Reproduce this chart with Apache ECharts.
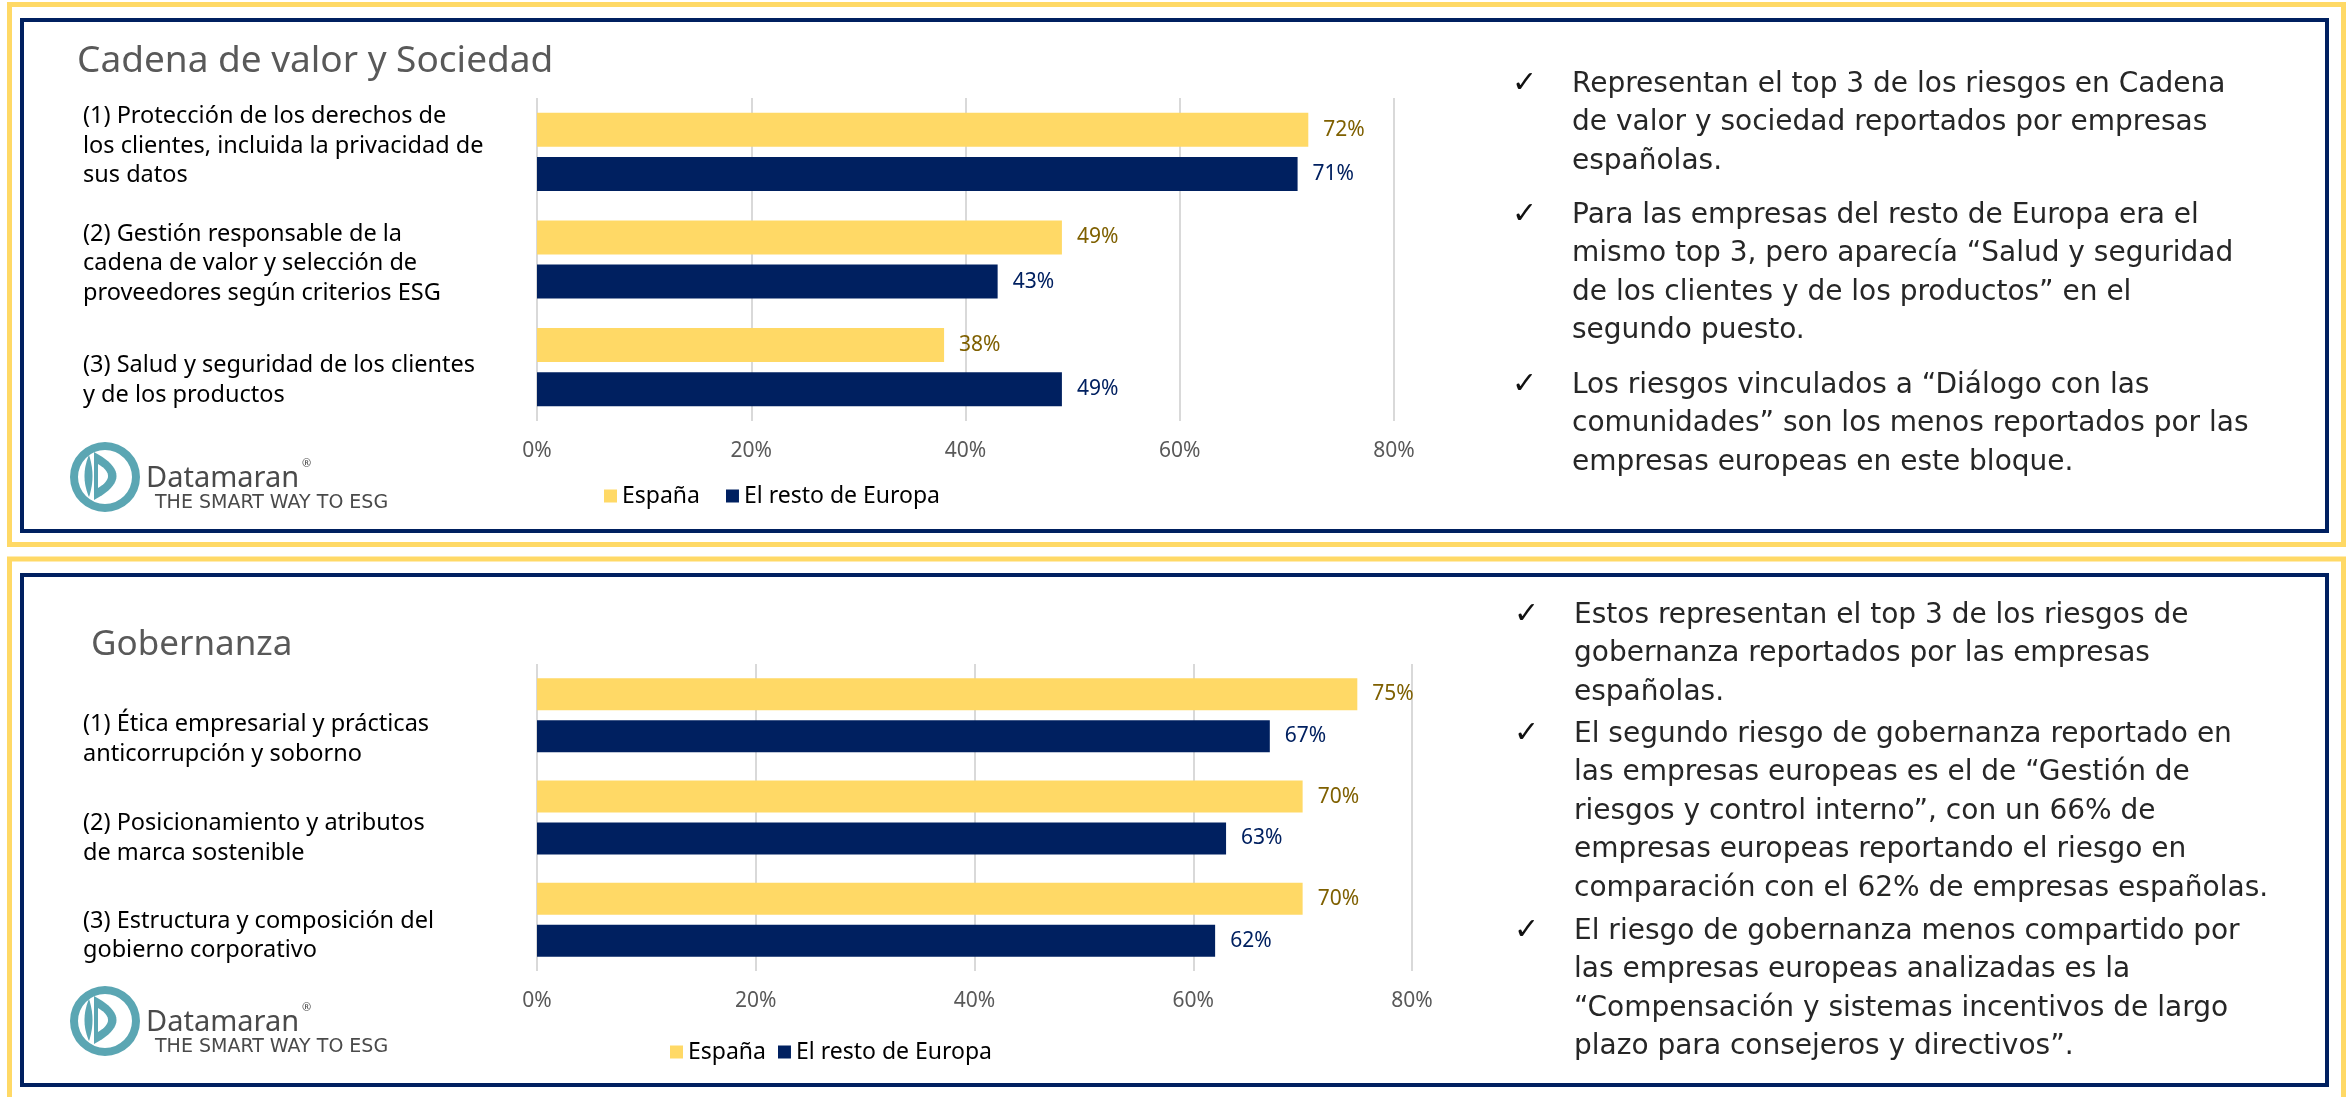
<!DOCTYPE html>
<html>
<head>
<meta charset="utf-8">
<script src="https://cdn.jsdelivr.net/npm/echarts@6/dist/echarts.min.js"></script>
<style>
  html, body { margin: 0; padding: 0; background: #fff; }
  #main { width: 2346px; height: 1097px; }
</style>
</head>
<body>
<div id="main"></div>
<script>
// Cadena de valor y Sociedad
const catsA = [
  '(1) Protección de los derechos de\nlos clientes, incluida la privacidad de\nsus datos',
  '(2) Gestión responsable de la\ncadena de valor y selección de\nproveedores según criterios ESG',
  '(3) Salud y seguridad de los clientes\ny de los productos'
];
const espanaA = [72, 49, 38];
const europaA = [71, 43, 49];

// Gobernanza
const catsB = [
  '(1) Ética empresarial y prácticas\nanticorrupción y soborno',
  '(2) Posicionamiento y atributos\nde marca sostenible',
  '(3) Estructura y composición del\ngobierno corporativo'
];
const espanaB = [75, 70, 70];
const europaB = [67, 63, 62];

const seriesNames = ['España', 'El resto de Europa'];

const notesA = [
  'Representan el top 3 de los riesgos en Cadena\nde valor y sociedad reportados por empresas\nespañolas.',
  'Para las empresas del resto de Europa era el\nmismo top 3, pero aparecía “Salud y seguridad\nde los clientes y de los productos” en el\nsegundo puesto.',
  'Los riesgos vinculados a “Diálogo con las\ncomunidades” son los menos reportados por las\nempresas europeas en este bloque.'
];
const notesB = [
  'Estos representan el top 3 de los riesgos de\ngobernanza reportados por las empresas\nespañolas.',
  'El segundo riesgo de gobernanza reportado en\nlas empresas europeas es el de “Gestión de\nriesgos y control interno”, con un 66% de\nempresas europeas reportando el riesgo en\ncomparación con el 62% de empresas españolas.',
  'El riesgo de gobernanza menos compartido por\nlas empresas europeas analizadas es la\n“Compensación y sistemas incentivos de largo\nplazo para consejeros y directivos”.'
];

const YELLOW = '#FFD966';
const NAVY = '#002060';
const TEAL = '#5BA6B3';
const FONT = 'Noto Sans';
const NOTE_FONT = 'DejaVu Sans';

// vertical nudges of the category labels (px, + is down)
const labelShiftA = [-6, 4, 13];
const labelShiftB = [24, 21, 16];

// an empty spacer line above (or below) the label moves its centre by half the spacer height
function labelRich(shifts) {
  const rich = {};
  shifts.forEach((s, i) => {
    const h = Math.max(1, Math.abs(2 * s));
    rich['sp' + i] = { height: h, lineHeight: h, fontSize: 1 };
  });
  return rich;
}
function labelFormatter(shifts) {
  return function (v, i) {
    const s = shifts[i] || 0;
    if (s > 0) return '{sp' + i + '| }\n' + v;
    if (s < 0) return v + '\n{sp' + i + '| }';
    return v;
  };
}

function xAx(gi) {
  return {
    gridIndex: gi, type: 'value', min: 0, max: 80, interval: 20,
    axisLine: { show: false }, axisTick: { show: false },
    axisLabel: { formatter: '{value}%', color: '#595959', fontSize: 21, fontFamily: FONT, margin: 20 },
    splitLine: { lineStyle: { color: '#d9d9d9', width: 2 } }
  };
}
function yAx(gi, cats, shifts) {
  return {
    gridIndex: gi, type: 'category', inverse: true, data: cats,
    axisLine: { show: false }, axisTick: { show: false },
    axisLabel: {
      interval: 0, align: 'left', margin: 454, color: '#000', fontSize: 23.5, fontFamily: FONT, lineHeight: 29.5,
      formatter: labelFormatter(shifts), rich: labelRich(shifts)
    }
  };
}
function barSeries(name, data, gi, color, labelColor, barWidth, barGap) {
  return {
    name: name, type: 'bar', xAxisIndex: gi, yAxisIndex: gi, data: data,
    barWidth: barWidth, barGap: barGap,
    itemStyle: { color: color },
    label: { show: true, position: 'right', distance: 15, formatter: '{c}%', color: labelColor, fontSize: 21, fontFamily: FONT }
  };
}

// closed shape: straight edge from (x,y0) to (x,y1), curved side bulging to bx
function sail(x, y0, y1, bx) {
  const pts = [];
  for (let i = 0; i <= 20; i++) {
    const t = i / 20;
    const px = (1 - t) * (1 - t) * x + 2 * t * (1 - t) * bx + t * t * x;
    const py = (1 - t) * (1 - t) * y0 + 2 * t * (1 - t) * ((y0 + y1) / 2) + t * t * y1;
    pts.push([px, py]);
  }
  return pts;
}

function logo(cx, cy) {
  return {
    type: 'group', children: [
      { type: 'ring', shape: { cx: cx, cy: cy, r: 35, r0: 27 }, style: { fill: TEAL } },
      { type: 'polygon', shape: { points: sail(cx - 11, cy - 25, cy + 23, cx + 34) }, style: { fill: TEAL } },
      { type: 'polygon', shape: { points: sail(cx - 7, cy - 13, cy + 11, cx + 13) }, style: { fill: '#fff' } },
      { type: 'polygon', shape: { points: sail(cx - 16, cy + 20, cy - 22, cx - 25).concat(sail(cx - 16, cy - 22, cy + 20, cx - 9)) }, style: { fill: TEAL } },
      { type: 'text', x: cx + 41, y: cy + 2, style: { text: 'Datamaran', font: '29px "Noto Sans"', fill: '#4a4a4a', verticalAlign: 'middle' } },
      { type: 'text', x: cx + 197, y: cy - 13, style: { text: '®', font: '11px "Noto Sans"', fill: '#4a4a4a', verticalAlign: 'middle' } },
      { type: 'text', x: cx + 50, y: cy + 26, style: { text: 'THE SMART WAY TO ESG', font: '19px "DejaVu Sans"', fill: '#4a4a4a', verticalAlign: 'middle' } }
    ]
  };
}

function notes(list, tops, x) {
  const out = [];
  list.forEach((t, i) => {
    out.push({ type: 'text', x: x - 60, y: tops[i] + 19, style: { text: '✓', font: '30px "DejaVu Sans"', fill: '#111', verticalAlign: 'middle' } });
    out.push({ type: 'text', x: x, y: tops[i], style: { text: t, font: '28px "' + NOTE_FONT + '"', fill: '#262626', verticalAlign: 'top', lineHeight: 38.5 } });
  });
  return out;
}

const chart = echarts.init(document.getElementById('main'), null, { renderer: 'canvas' });

const option = {
  backgroundColor: '#fff',
  animation: false,
  color: [YELLOW, NAVY],
  title: [
    { text: 'Cadena de valor y Sociedad', left: 77, top: 40, textStyle: { fontFamily: FONT, fontSize: 37, fontWeight: 'normal', color: '#595959', lineHeight: 42 }, padding: 0 },
    { text: 'Gobernanza', left: 91, top: 624, textStyle: { fontFamily: FONT, fontSize: 35, fontWeight: 'normal', color: '#595959', lineHeight: 42 }, padding: 0 }
  ],
  legend: [
    { data: seriesNames, left: 604, top: 483, itemWidth: 13, itemHeight: 13, itemGap: 26, icon: 'rect', padding: 0,
      textStyle: { fontFamily: FONT, fontSize: 23, color: '#000', lineHeight: 26 } },
    { data: seriesNames, left: 670, top: 1039, itemWidth: 13, itemHeight: 13, itemGap: 12, icon: 'rect', padding: 0,
      textStyle: { fontFamily: FONT, fontSize: 23, color: '#000', lineHeight: 26 } }
  ],
  grid: [
    { left: 537, top: 98, width: 857, height: 323, containLabel: false, outerBoundsMode: 'none' },
    { left: 537, top: 664, width: 875, height: 307, containLabel: false, outerBoundsMode: 'none' }
  ],
  xAxis: [xAx(0), xAx(1)],
  yAxis: [yAx(0, catsA, labelShiftA), yAx(1, catsB, labelShiftB)],
  series: [
    barSeries(seriesNames[0], espanaA, 0, YELLOW, '#7F6000', 34, '30%'),
    barSeries(seriesNames[1], europaA, 0, NAVY, NAVY, 34, '30%'),
    barSeries(seriesNames[0], espanaB, 1, YELLOW, '#7F6000', 32, '31%'),
    barSeries(seriesNames[1], europaB, 1, NAVY, NAVY, 32, '31%')
  ],
  graphic: [
    { type: 'rect', shape: { x: 9.5, y: 4.5, width: 2334, height: 540 }, style: { fill: 'none', stroke: YELLOW, lineWidth: 5 }, z: -1 },
    { type: 'rect', shape: { x: 22, y: 20, width: 2305, height: 511 }, style: { fill: 'none', stroke: NAVY, lineWidth: 4 }, z: -1 },
    { type: 'rect', shape: { x: 9.5, y: 559, width: 2334, height: 560 }, style: { fill: 'none', stroke: YELLOW, lineWidth: 5 }, z: -1 },
    { type: 'rect', shape: { x: 22, y: 575, width: 2305, height: 510 }, style: { fill: 'none', stroke: NAVY, lineWidth: 4 }, z: -1 },
    logo(105, 477),
    logo(105, 1021)
  ].concat(notes(notesA, [65, 196, 366], 1572)).concat(notes(notesB, [596, 715, 912], 1574))
};

chart.setOption(option);
</script>
</body>
</html>
